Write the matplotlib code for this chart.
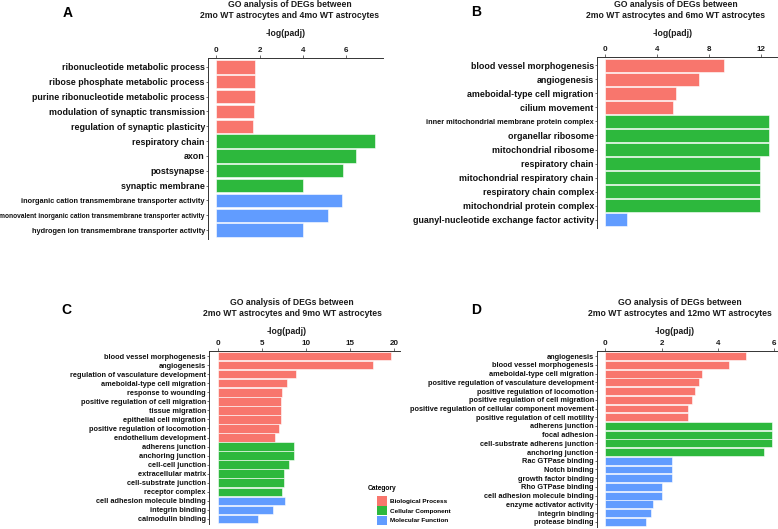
import matplotlib
matplotlib.use('Agg')
import matplotlib.pyplot as plt
from matplotlib.patches import Patch

plt.rcParams['font.family'] = ['Liberation Sans', 'DejaVu Sans']
plt.rcParams['font.weight'] = 'bold'

BP, CC, MF = 'Biological Process', 'Cellular Component', 'Molecular Function'
colors = {BP: '#F8766D', CC: '#2DB83D', MF: '#619CFF'}

# panel A: 2mo vs 4mo
a_terms = ['ribonucleotide metabolic process', 'ribose phosphate metabolic process',
           'purine ribonucleotide metabolic process', 'modulation of synaptic transmission',
           'regulation of synaptic plasticity', 'respiratory chain', 'axon', 'postsynapse',
           'synaptic membrane', 'inorganic cation transmembrane transporter activity',
           'monovalent inorganic cation transmembrane transporter activity',
           'hydrogen ion transmembrane transporter activity']
a_vals = [1.77, 1.77, 1.77, 1.75, 1.69, 7.31, 6.43, 5.82, 4.0, 5.8, 5.15, 4.0]
a_cats = [BP] * 5 + [CC] * 4 + [MF] * 3

# panel B: 2mo vs 6mo
b_terms = ['blood vessel morphogenesis', 'angiogenesis', 'ameboidal-type cell migration',
           'cilium movement', 'inner mitochondrial membrane protein complex',
           'organellar ribosome', 'mitochondrial ribosome', 'respiratory chain',
           'mitochondrial respiratory chain', 'respiratory chain complex',
           'mitochondrial protein complex', 'guanyl-nucleotide exchange factor activity']
b_vals = [9.15, 7.28, 5.47, 5.26, 12.64, 12.64, 12.64, 11.92, 11.92, 11.92, 11.92, 1.68]
b_cats = [BP] * 4 + [CC] * 7 + [MF]

# panel C: 2mo vs 9mo
c_terms = ['blood vessel morphogenesis', 'angiogenesis', 'regulation of vasculature development',
           'ameboidal-type cell migration', 'response to wounding',
           'positive regulation of cell migration', 'tissue migration',
           'epithelial cell migration', 'positive regulation of locomotion',
           'endothelium development', 'adherens junction', 'anchoring junction',
           'cell-cell junction', 'extracellular matrix', 'cell-substrate junction',
           'receptor complex', 'cell adhesion molecule binding', 'integrin binding',
           'calmodulin binding']
c_vals = [19.7, 17.68, 8.94, 7.87, 7.3, 7.15, 7.15, 7.15, 6.96, 6.5,
          8.63, 8.63, 8.14, 7.49, 7.49, 7.34, 7.6, 6.24, 4.6]
c_cats = [BP] * 10 + [CC] * 6 + [MF] * 3

# panel D: 2mo vs 12mo
d_terms = ['angiogenesis', 'blood vessel morphogenesis', 'ameboidal-type cell migration',
           'positive regulation of vasculature development',
           'positive regulation of locomotion', 'positive regulation of cell migration',
           'positive regulation of cellular component movement',
           'positive regulation of cell motility', 'adherens junction', 'focal adhesion',
           'cell-substrate adherens junction', 'anchoring junction', 'Rac GTPase binding',
           'Notch binding', 'growth factor binding', 'Rho GTPase binding',
           'cell adhesion molecule binding', 'enzyme activator activity',
           'integrin binding', 'protease binding']
d_vals = [5.01, 4.40, 3.45, 3.33, 3.19, 3.07, 2.93, 2.93, 5.93, 5.93, 5.93, 5.65,
          2.36, 2.36, 2.36, 2.0, 2.0, 1.70, 1.64, 1.46]
d_cats = [BP] * 8 + [CC] * 4 + [MF] * 8

W, H = 778, 529
fig = plt.figure(figsize=(W / 100, H / 100), dpi=100)


def px_axes(x0, y0, x1, y1):
    return fig.add_axes([x0 / W, 1 - y1 / H, (x1 - x0) / W, (y1 - y0) / H])


def panel(box, terms, vals, cats, xlim, ticks, fs, small, letter, letter_xy,
          title_xy, months, label_xy):
    ax = px_axes(*box)
    n = len(terms)
    ypos = list(range(n))
    ax.barh(ypos, vals, height=0.9, color=[colors[c] for c in cats],
            edgecolor='white', linewidth=0.4)
    ax.set_ylim(n - 0.4, -0.6)
    ax.set_xlim(*xlim)
    ax.set_yticks(ypos)
    ax.set_yticklabels(terms)
    for lab, t in zip(ax.get_yticklabels(), terms):
        lab.set_fontsize(small.get(t, fs))
        lab.set_color('#111111')
    ax.set_xticks(ticks)
    ax.xaxis.tick_top()
    ax.tick_params(axis='x', labelsize=5.8, length=2, width=0.5, pad=1,
                   color='#333333', labelcolor='#1a1a1a')
    ax.tick_params(axis='y', length=1.5, width=0.5, pad=0.8, color='#333333')
    for s in ['right', 'bottom']:
        ax.spines[s].set_visible(False)
    for s in ['left', 'top']:
        ax.spines[s].set_linewidth(0.7)
        ax.spines[s].set_color('#333333')
    # axis title and panel headings, placed in pixels
    fig.text(label_xy[0] / W, 1 - label_xy[1] / H, '-log(padj)', fontsize=6.2,
             ha='center', va='center', color='#1a1a1a')
    fig.text(letter_xy[0] / W, 1 - letter_xy[1] / H, letter, fontsize=10,
             ha='center', va='center')
    fig.text(title_xy[0] / W, 1 - title_xy[1] / H,
             'GO analysis of DEGs between\n2mo WT astrocytes and %s WT astrocytes' % months,
             fontsize=6.2, ha='center', va='center', linespacing=1.15, color='#1a1a1a')
    return ax


a_small = {a_terms[9]: 5.3, a_terms[10]: 4.75, a_terms[11]: 5.3}
panel((208, 58, 383, 239), a_terms, a_vals, a_cats, (-0.37, 7.68), [0, 2, 4, 6], 6.4,
      a_small, 'A', (68, 13), (290, 10), '4mo', (286, 34))

panel((597, 57, 777, 228), b_terms, b_vals, b_cats, (-0.63, 13.27), [0, 4, 8, 12], 6.4,
      {b_terms[4]: 5.3}, 'B', (476, 12), (676, 10), '6mo', (673, 33))

panel((209, 351, 400, 524), c_terms, c_vals, c_cats, (-0.99, 20.7), [0, 5, 10, 15, 20],
      5.3, {}, 'C', (66, 310), (292, 308), '9mo', (287, 332))

panel((597, 351, 778, 527), d_terms, d_vals, d_cats, (-0.3, 6.15), [0, 2, 4, 6],
      5.3, {}, 'D', (476, 310), (680, 308), '12mo', (675, 331))

fig.text(368 / W, 1 - 488 / H, 'Category', fontsize=4.8, ha='left', va='center')
handles = [Patch(facecolor=colors[c], edgecolor='none', label=c) for c in [BP, CC, MF]]
fig.legend(handles=handles, loc='upper left', bbox_to_anchor=(373 / W, 1 - 492 / H),
           frameon=False, fontsize=4.6, handlelength=1.45, handleheight=1.8,
           handletextpad=0.45, labelspacing=0.1, borderpad=0.2)

fig.savefig('out.png', dpi=100)
